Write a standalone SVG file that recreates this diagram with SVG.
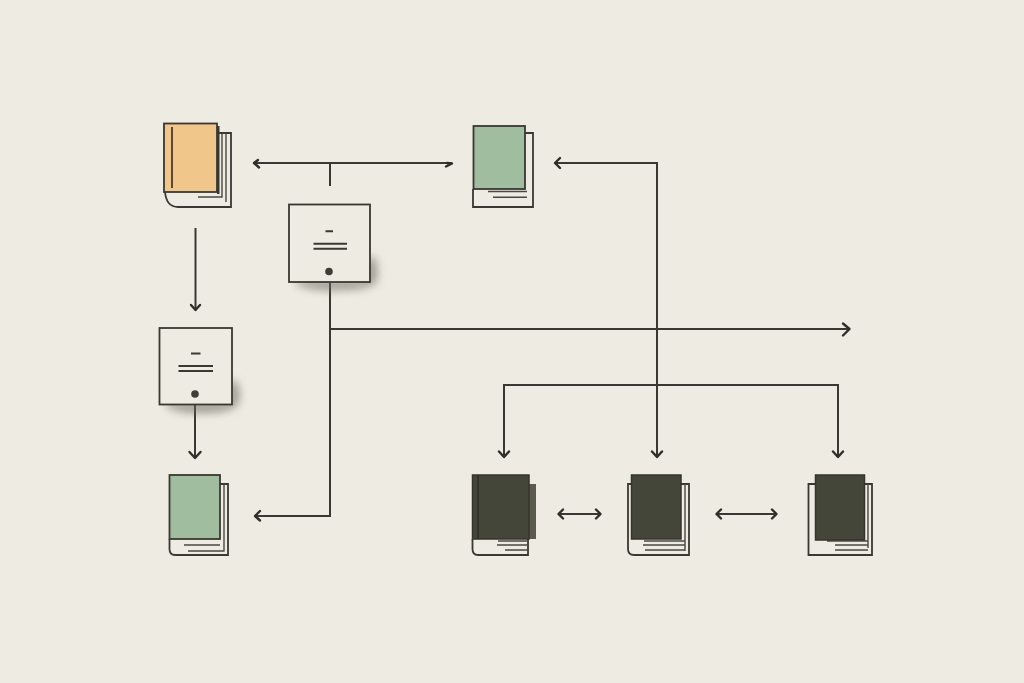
<svg xmlns="http://www.w3.org/2000/svg" width="1024" height="683" viewBox="0 0 1024 683">
<style>
.ln{fill:none;stroke:#3a3832;stroke-width:2}
.thin{fill:none;stroke:#4a4842;stroke-width:1.4}
.page{fill:#eeebe2;stroke:#3a3832;stroke-width:1.8}
.cov{stroke:#3a3832;stroke-width:1.8}
.dark{fill:#45463a;stroke:#35352c;stroke-width:1.5}
.box{fill:#eeebe2;stroke:#3a3832;stroke-width:1.8}
.ah{fill:none;stroke:#2f2e29;stroke-width:2.4;stroke-linecap:round;stroke-linejoin:round}
.sh{fill:#6b685c;opacity:.6;filter:url(#blur)}
</style>
<defs><filter id="blur" x="-30%" y="-60%" width="160%" height="220%"><feGaussianBlur stdDeviation="4"/></filter></defs>
<rect width="1024" height="683" fill="#eeebe2"/>

<g id="connectors">
<path class="ln" d="M254 163H452M330 163V186"/>
<path class="ah" d="M258 160L254 163L259 167.500M446 166.500L452 163.500L447 163"/>
<path class="ln" d="M195.500 228V309"/><path class="ah" d="M191 305L195.500 310L200 305"/>
<path class="ln" d="M195 404V458"/><path class="ah" d="M189.500 452L195 458L200.500 452"/>
<path class="ln" d="M330 283V516H255"/><path class="ah" d="M260 511L255 516L260 520.500"/>
<path class="ln" d="M330 329H849"/><path class="ah" d="M843 323.500L849.500 329L843 335.500"/>
<path class="ln" d="M556 163H657V456"/><path class="ah" d="M560 158L555 163L560 168M652 451.500L657 457L662 451.500"/>
<path class="ln" d="M504 457V385H838V457"/><path class="ah" d="M499 451.500L504 457L509 451.500M833 451.500L838 457L843 451.500"/>
<path class="ln" d="M559 514H600"/><path class="ah" d="M563 509.500L558.500 514L563 518.500M596 509.500L600.500 514L596 518.500"/>
<path class="ln" d="M717 514H776"/><path class="ah" d="M721 509.500L716.500 514L721 518.500M772 509.500L776.500 514L772 518.500"/>
</g>

<g id="book-orange">
<path class="page" d="M165 192C166 202 171 207 178 207H231V133H217"/>
<path class="thin" d="M226 133V202M222 133V197H198"/>
<rect x="217" y="126" width="2.500" height="68" fill="#3a3832"/>
<rect class="cov" x="164" y="123.500" width="53" height="68.500" fill="#f0c68a"/>
<path d="M172 127V188" stroke="#5a4a30" stroke-width="2" fill="none"/>
</g>

<g id="box-top">
<path class="sh" d="M296 280H366V260L374 256Q380 272 376 282Q368 290 340 290Q312 292 296 284Z"/>
<rect class="box" x="289" y="204.500" width="81" height="77.500"/>
<path class="ln" d="M325.500 231.200H333M313.500 243.700H347M313.500 248.700H347"/>
<circle cx="329" cy="271.500" r="3.800" fill="#3f3d37"/>
</g>

<g id="book-green-top">
<path class="page" d="M473 189V207H533V133H525"/>
<path class="thin" d="M488 191.500H527M493 197.300H527"/>
<rect class="cov" x="473.500" y="126" width="51.500" height="63" fill="#a0bd9f"/>
</g>

<g id="box-left">
<path class="sh" d="M166 402H228V384L236 380Q242 394 238 404Q230 413 205 413Q178 414 166 406Z"/>
<rect class="box" x="159.500" y="328" width="72.500" height="76.500"/>
<path class="ln" d="M191 353.500H200.500M178.500 366H213M178.500 371H213"/>
<circle cx="195" cy="394" r="3.800" fill="#3f3d37"/>
</g>

<g id="book-green-bottom">
<path class="page" d="M169.500 539V549Q169.500 555 175 555H228V484H220"/>
<path class="thin" d="M224 484V551H188M220 545H184"/>
<rect class="cov" x="169.500" y="475" width="50.500" height="64" fill="#a0bd9f"/>
</g>

<g id="book-dark-1">
<path class="page" d="M472.500 539V549Q472.500 555 478 555H528V539"/>
<path class="thin" d="M498 541H528M497 545H528M505 550H528"/>
<rect x="528" y="484" width="8" height="55" fill="#5a5a4e"/>
<rect class="dark" x="472.500" y="475" width="56.500" height="64"/>
<path d="M478 475V539" stroke="#2e2e26" stroke-width="1.500" fill="none"/>
</g>

<g id="book-dark-2">
<path class="page" d="M628 484V549Q628 555 634 555H689V484Z"/>
<path class="thin" d="M685 484V551M644 541H685M643 545H685M645 550H685"/>
<rect class="dark" x="631.500" y="475" width="49.500" height="64"/>
</g>

<g id="book-dark-3">
<path class="page" d="M808.500 484V555H872V484Z"/>
<path class="thin" d="M868 484V548M827 541H868M835 545H868M835 550H868"/>
<rect class="dark" x="815.500" y="475" width="49" height="65"/>
</g>
</svg>
